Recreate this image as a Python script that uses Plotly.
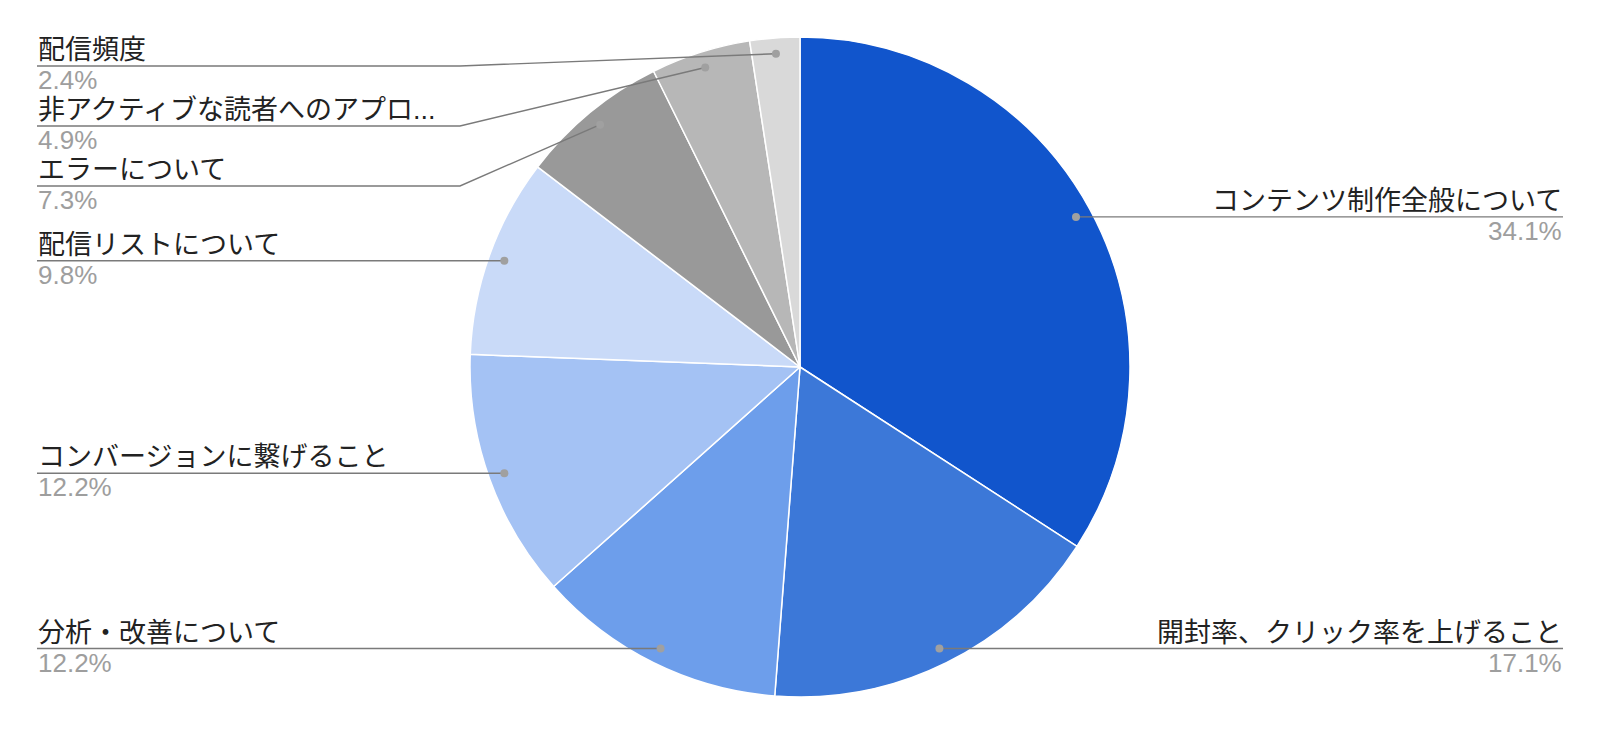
import math
import plotly.graph_objects as go

# ---- data ----
categories = [
    "コンテンツ制作全般について",
    "開封率、クリック率を上げること",
    "分析・改善について",
    "コンバージョンに繋げること",
    "配信リストについて",
    "エラーについて",
    "非アクティブな読者へのアプロ...",
    "配信頻度",
]
counts = [14, 7, 5, 5, 4, 3, 2, 1]
colors = ["#1155cc", "#3c78d8", "#6d9eeb", "#a4c2f4",
          "#c9daf8", "#999999", "#b7b7b7", "#d9d9d9"]

# ---- layout constants ----
W, H = 1600, 736
CX, CY, R = 800, 367, 330
DOT_R = 0.952 * R
LEFT_X, RIGHT_X = 37, 1563
ELBOW_L, ELBOW_R = 460, 1140
TOP_MIN, GAP = 66, 60
FONT = "Liberation Sans, Arial, Noto Sans CJK JP, sans-serif"
LABEL_SIZE, PCT_SIZE = 27, 26
LINE_COLOR, DOT_COLOR = "#7a7a7a", "#a0a0a0"
LABEL_COLOR, PCT_COLOR = "#222222", "#9e9e9e"


def px(x):
    return x / W


def py(y):
    return 1 - y / H


total = sum(counts)
fig = go.Figure()
fig.add_trace(go.Pie(
    labels=categories, values=counts, sort=False, direction="clockwise",
    rotation=0, textinfo="none", showlegend=False,
    marker=dict(colors=colors, line=dict(color="white", width=1.5)),
    domain=dict(x=[px(CX - R), px(CX + R)], y=[py(CY + R), py(CY - R)]),
))

# compute dot positions from slice mid-angles
items = []
cum = 0
for cat, v in zip(categories, counts):
    mid = (cum + v / 2) / total * 2 * math.pi
    cum += v
    dx = CX + DOT_R * math.sin(mid)
    dy = CY - DOT_R * math.cos(mid)
    side = "right" if mid < math.pi else "left"
    items.append(dict(cat=cat, pct=f"{v / total * 100:.1f}%", dx=dx, dy=dy, side=side))

# place labels per side, stacking top to bottom
for side in ("left", "right"):
    grp = sorted([it for it in items if it["side"] == side], key=lambda it: it["dy"])
    prev = None
    for it in grp:
        ly = max(it["dy"], TOP_MIN)
        if prev is not None:
            ly = max(ly, prev + GAP)
        it["ly"] = ly
        prev = ly

shapes = []
annotations = []
for it in items:
    ly = it["ly"]
    pts = [(it["dx"], it["dy"])]
    if it["side"] == "left":
        if abs(ly - it["dy"]) > 0.5:
            pts.append((ELBOW_L, ly))
        pts.append((LEFT_X, ly))
        tx, anchor = LEFT_X, "left"
    else:
        if abs(ly - it["dy"]) > 0.5:
            pts.append((ELBOW_R, ly))
        pts.append((RIGHT_X, ly))
        tx, anchor = RIGHT_X, "right"
    path = "M " + " L ".join(f"{px(x):.5f},{py(y):.5f}" for x, y in pts)
    shapes.append(dict(type="path", xref="paper", yref="paper", path=path,
                       line=dict(color=LINE_COLOR, width=1.4), layer="above"))
    rr = 4
    shapes.append(dict(type="circle", xref="paper", yref="paper",
                       x0=px(it["dx"] - rr), x1=px(it["dx"] + rr),
                       y0=py(it["dy"] + rr), y1=py(it["dy"] - rr),
                       fillcolor=DOT_COLOR, line=dict(width=0), layer="above"))
    annotations.append(dict(x=px(tx), y=py(ly - 16), xref="paper", yref="paper",
                            text=it["cat"], showarrow=False, xanchor=anchor,
                            yanchor="middle", borderpad=0,
                            font=dict(family=FONT, size=LABEL_SIZE, color=LABEL_COLOR)))
    annotations.append(dict(x=px(tx), y=py(ly + 14), xref="paper", yref="paper",
                            text=it["pct"], showarrow=False, xanchor=anchor,
                            yanchor="middle", borderpad=0,
                            font=dict(family=FONT, size=PCT_SIZE, color=PCT_COLOR)))

fig.update_layout(
    width=W, height=H, margin=dict(l=0, r=0, t=0, b=0),
    paper_bgcolor="white", plot_bgcolor="white",
    shapes=shapes, annotations=annotations,
    font=dict(family=FONT),
)
fig.write_html("out.html", config={"displayModeBar": False},
               post_script="document.body.style.margin='0';document.body.style.overflow='hidden';")
